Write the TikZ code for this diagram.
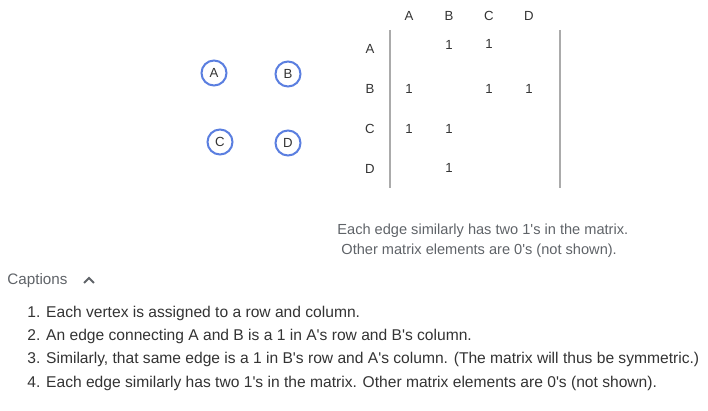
\documentclass[tikz,border=0pt]{standalone}
\usepackage{fontspec}
\setmainfont{Liberation Sans}
\usepackage{tikz}
\usetikzlibrary{positioning,calc}
\definecolor{vblue}{HTML}{5B7FE0}
\definecolor{bargray}{HTML}{ABABAB}
\definecolor{txtdark}{HTML}{333333}
\definecolor{txtgray}{HTML}{5F6368}
\newcommand{\apo}{\textquotesingle}
\tikzset{
  % Graph vertices
  vert/.style={draw=vblue,line width=1pt,circle,minimum size=12.5pt,inner sep=0pt,
               font=\fontsize{6.6}{7.5}\selectfont,text=txtdark},
  % Matrix labels and entries
  hdr/.style={font=\fontsize{6.6}{7.5}\selectfont,text=txtdark,inner sep=0pt},
  one/.style={font=\fontsize{6.6}{7.5}\selectfont,text=txtdark,inner sep=0pt},
  % Matrix side bars
  bar/.style={draw=bargray,line width=1pt},
  % Notes and captions
  note/.style={font=\fontsize{7.3}{8.8}\selectfont,text=txtgray,inner sep=0pt,anchor=west},
  capt/.style={font=\fontsize{7.8}{9.4}\selectfont,text=txtdark,inner sep=0pt,anchor=west}
}

\begin{document}
\begin{tikzpicture}[x=0.5pt,y=-0.5pt]
  \useasboundingbox (0,0) rectangle (708,411);

  % --- Graph ---
  \node[vert] (vA) at (214,73)  {A};
  \node[vert] (vB) at (288,74)  {B};
  \node[vert] (vC) at (220,142) {C};
  \node[vert] (vD) at (288,143) {D};

  % --- Matrix headers ---
  \node[hdr] (cA) at (409,16) {A};
  \node[hdr] (cB) at (449,16) {B};
  \node[hdr] (cC) at (489,16) {C};
  \node[hdr] (cD) at (529,16) {D};
  \node[hdr] (rA) at (370,49)  {A};
  \node[hdr] (rB) at (370,89)  {B};
  \node[hdr] (rC) at (370,129) {C};
  \node[hdr] (rD) at (370,169) {D};

  % --- Matrix entries ---
  \node[one] (mAB) at (449,45)  {1};
  \node[one] (mAC) at (489,44)  {1};
  \node[one] (mBA) at (409,89)  {1};
  \node[one] (mBC) at (489,89)  {1};
  \node[one] (mBD) at (529,89)  {1};
  \node[one] (mCA) at (409,129) {1};
  \node[one] (mCB) at (449,129) {1};
  \node[one] (mDB) at (449,168) {1};

  % --- Bars ---
  \coordinate (lTop) at (390,30);
  \coordinate (lBot) at (390,188);
  \coordinate (rTop) at (560,30);
  \coordinate (rBot) at (560,188);
  \draw[bar] (lTop) -- (lBot);
  \draw[bar] (rTop) -- (rBot);

  % --- Note under matrix ---
  \node[note] (n1) at (337,231) {Each edge similarly has two 1\apo s in the matrix.};
  \node[note] (n2) at (341,251) {Other matrix elements are 0\apo s (not shown).};

  % --- Captions ---
  \node[note,font=\fontsize{7.6}{9}\selectfont] (cap) at (7,281) {Captions};
  \coordinate (carL) at (84,283);
  \coordinate (carT) at (89,278);
  \coordinate (carR) at (94,283);
  \draw[txtgray,line width=1pt] (carL) -- (carT) -- (carR);

  \node[capt] (c1) at (27,313) {1. Each vertex is assigned to a row and column.};
  \node[capt] (c2) at (27,336) {2. An edge connecting A and B is a 1 in A\apo s row and B\apo s column.};
  \node[capt] (c3) at (27,359) {3. Similarly, that same edge is a 1 in B\apo s row and A\apo s column. (The matrix will thus be symmetric.)};
  \node[capt] (c4) at (27,383) {4. Each edge similarly has two 1\apo s in the matrix. Other matrix elements are 0\apo s (not shown).};
\end{tikzpicture}
\end{document}
